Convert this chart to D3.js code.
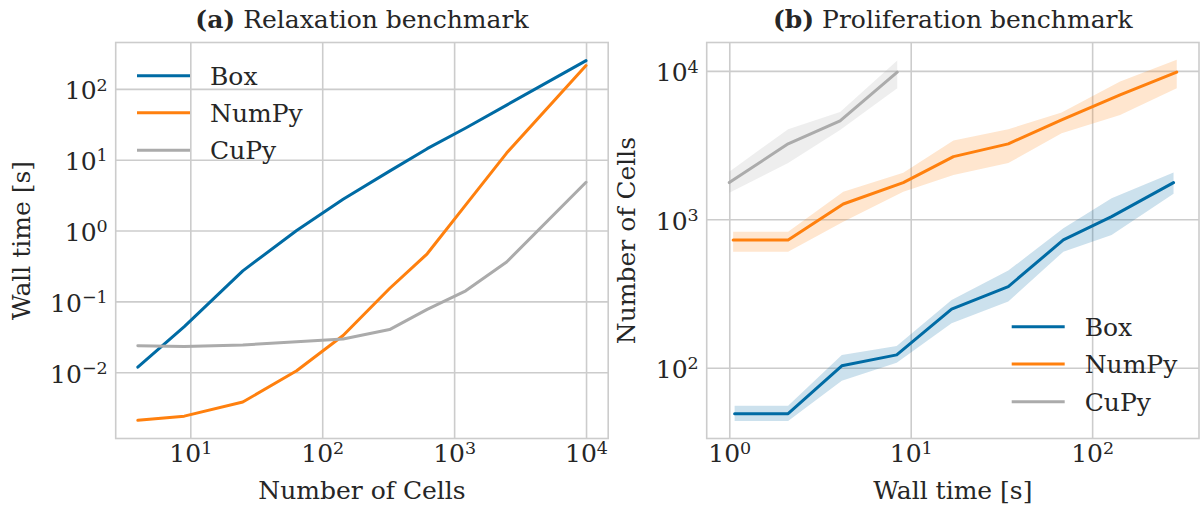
<!DOCTYPE html>
<html>
<head>
<meta charset="utf-8">
<script src="https://cdn.jsdelivr.net/npm/d3@7"></script>
<style>
  body { margin: 0; background: #fff; }
  text { font-family: "DejaVu Serif", serif; fill: #262626; }
</style>
</head>
<body>
<div id="chart"></div>
<script>
// ---- data ----
// (a) relaxation benchmark: wall time vs number of cells
const relaxCells = [4, 9, 25, 64, 144, 324, 625, 1225, 2500, 10000];
const relaxBox   = [0.0118, 0.044, 0.27, 1.0, 2.76, 6.9, 14.3, 28, 59, 250];
const relaxNumpy = [0.0021, 0.0024, 0.0038, 0.0105, 0.033, 0.152, 0.47, 2.3, 12.4, 213];
const relaxCupy  = [0.0237, 0.023, 0.0243, 0.027, 0.0294, 0.040, 0.077, 0.141, 0.36, 4.8];

// (b) proliferation benchmark: number of cells vs wall time, with spread band
const profBoxTime  = [1.07, 2.11, 4.17, 8.37, 16.8, 34.5, 69.4, 128, 281];
const profBoxCells = [49, 49, 103, 122, 248, 352, 726, 1042, 1766];
const profBoxLow   = [43.7, 43.7, 81.7, 108, 199, 279, 605, 785, 1483];
const profBoxHigh  = [55.5, 55.5, 122, 140, 286, 451, 871, 1387, 2065];

const profNumpyTime  = [1.05, 2.11, 4.25, 9.1, 17.2, 34.5, 67.9, 142.6, 292.6];
const profNumpyCells = [724, 724, 1268, 1766, 2643, 3223, 4677, 6888, 9800];
const profNumpyLow   = [605, 605, 964, 1535, 1990, 2390, 3800, 5047, 7640];
const profNumpyHigh  = [824, 824, 1535, 2060, 3388, 4045, 5236, 8470, 11870];

const profCupyTime  = [1.0, 2.11, 4.08, 8.43];
const profCupyCells = [1766, 3223, 4600, 9800];
const profCupyLow   = [1510, 2390, 4000, 7640];
const profCupyHigh  = [2094, 4045, 5272, 11730];

const seriesNames = ["Box", "NumPy", "CuPy"];
const colors = ["#006BA4", "#FF800E", "#ABABAB"];

const relaxXTicks = [1e1, 1e2, 1e3, 1e4];
const relaxYTicks = [1e-2, 1e-1, 1e0, 1e1, 1e2];
const profXTicks = [1e0, 1e1, 1e2];
const profYTicks = [1e2, 1e3, 1e4];

// ---- drawing ----
const W = 1200, H = 506, FS = 25;
const svg = d3.select("#chart").append("svg")
    .attr("width", W).attr("height", H);
svg.append("rect").attr("width", W).attr("height", H).attr("fill", "#fff");

// superscript tick labels like 10^2
function powLabels(g){
    g.selectAll(".tick text").each(function(d){
        const t = d3.select(this);
        const e = Math.round(Math.log10(d));
        t.text(null);
        t.append("tspan").text("10");
        t.append("tspan").attr("dy", "-0.5em").attr("font-size", "0.7em")
            .text(e < 0 ? "\u2212" + (-e) : e);
    });
}

function drawPanel(p){
    const x = d3.scaleLog().domain(p.xDomain).range(p.xRange);
    const y = d3.scaleLog().domain(p.yDomain).range(p.yRange);
    const w = p.xRange[1] - p.xRange[0], h = p.yRange[0] - p.yRange[1];
    const g = svg.append("g");

    // x axis with grid
    const gx = g.append("g")
        .attr("transform", "translate(0," + p.yRange[0] + ")")
        .call(d3.axisBottom(x).tickValues(p.xTicks).tickSizeInner(-h).tickSizeOuter(0).tickPadding(6));
    // y axis with grid
    const gy = g.append("g")
        .attr("transform", "translate(" + p.xRange[0] + ",0)")
        .call(d3.axisLeft(y).tickValues(p.yTicks).tickSizeInner(-w).tickSizeOuter(0).tickPadding(8));
    [gx, gy].forEach(function(a){
        a.select(".domain").remove();
        a.selectAll(".tick line").attr("stroke", "#cccccc").attr("stroke-width", 1.6);
        a.selectAll(".tick text").attr("font-size", FS).attr("fill", "#262626")
            .style("font-family", "DejaVu Serif");
        a.call(powLabels);
    });
    gy.selectAll(".tick text").attr("dy", "0.4em");

    // frame
    g.append("rect")
        .attr("x", p.xRange[0]).attr("y", p.yRange[1])
        .attr("width", w).attr("height", h)
        .attr("fill", "none").attr("stroke", "#cccccc").attr("stroke-width", 1.6);

    const clip = "clip" + p.id;
    g.append("clipPath").attr("id", clip).append("rect")
        .attr("x", p.xRange[0]).attr("y", p.yRange[1]).attr("width", w).attr("height", h);
    const plot = g.append("g").attr("clip-path", "url(#" + clip + ")");

    p.series.forEach(function(s, i){
        const pts = s.x.map(function(v, k){ return {x: v, y: s.y[k], lo: s.lo ? s.lo[k] : null, hi: s.hi ? s.hi[k] : null}; });
        if (s.lo){
            plot.append("path").datum(pts)
                .attr("fill", colors[i]).attr("fill-opacity", 0.2)
                .attr("d", d3.area().x(function(d){ return x(d.x); })
                    .y0(function(d){ return y(d.lo); }).y1(function(d){ return y(d.hi); }));
        }
        plot.append("path").datum(pts)
            .attr("fill", "none").attr("stroke", colors[i]).attr("stroke-width", 3)
            .attr("stroke-linejoin", "round").attr("stroke-linecap", "round")
            .attr("d", d3.line().x(function(d){ return x(d.x); }).y(function(d){ return y(d.y); }));
    });

    // title
    const cx = (p.xRange[0] + p.xRange[1]) / 2;
    const t = g.append("text").attr("x", cx).attr("y", 28)
        .attr("text-anchor", "middle").attr("font-size", FS);
    t.append("tspan").attr("font-weight", "bold").text(p.tag);
    t.append("tspan").text(" " + p.title);

    // axis labels
    g.append("text").attr("x", cx).attr("y", 499)
        .attr("text-anchor", "middle").attr("font-size", FS).text(p.xLabel);
    g.append("text")
        .attr("transform", "translate(" + p.yLabelX + "," + (p.yRange[0] + p.yRange[1]) / 2 + ") rotate(-90)")
        .attr("text-anchor", "middle").attr("font-size", FS).text(p.yLabel);

    // legend
    const lg = g.append("g");
    seriesNames.forEach(function(name, i){
        const ly = p.legend.y[i];
        lg.append("line")
            .attr("x1", p.legend.x).attr("x2", p.legend.x + 53)
            .attr("y1", ly).attr("y2", ly)
            .attr("stroke", colors[i]).attr("stroke-width", 3);
        lg.append("text").attr("x", p.legend.x + 73).attr("y", ly + 9)
            .attr("font-size", FS).text(name);
    });
}

drawPanel({
    id: "a", tag: "(a)", title: "Relaxation benchmark",
    xLabel: "Number of Cells", yLabel: "Wall time [s]", yLabelX: 30,
    xDomain: [Math.pow(10, 0.4344), Math.pow(10, 4.168)], xRange: [115.7, 608.2],
    yDomain: [Math.pow(10, -2.935), Math.pow(10, 2.654)], yRange: [438.5, 42.5],
    xTicks: relaxXTicks, yTicks: relaxYTicks,
    series: [
        {x: relaxCells, y: relaxBox},
        {x: relaxCells, y: relaxNumpy},
        {x: relaxCells, y: relaxCupy}
    ],
    legend: {x: 137, y: [75.7, 112.7, 150.3]}
});

drawPanel({
    id: "b", tag: "(b)", title: "Proliferation benchmark",
    xLabel: "Wall time [s]", yLabel: "Number of Cells", yLabelX: 635,
    xDomain: [Math.pow(10, -0.1245), Math.pow(10, 2.589)], xRange: [706.7, 1199],
    yDomain: [Math.pow(10, 1.523), Math.pow(10, 4.191)], yRange: [438.5, 42.5],
    xTicks: profXTicks, yTicks: profYTicks,
    series: [
        {x: profBoxTime, y: profBoxCells, lo: profBoxLow, hi: profBoxHigh},
        {x: profNumpyTime, y: profNumpyCells, lo: profNumpyLow, hi: profNumpyHigh},
        {x: profCupyTime, y: profCupyCells, lo: profCupyLow, hi: profCupyHigh}
    ],
    legend: {x: 1011.7, y: [326.7, 364, 401.7]}
});
</script>
</body>
</html>
